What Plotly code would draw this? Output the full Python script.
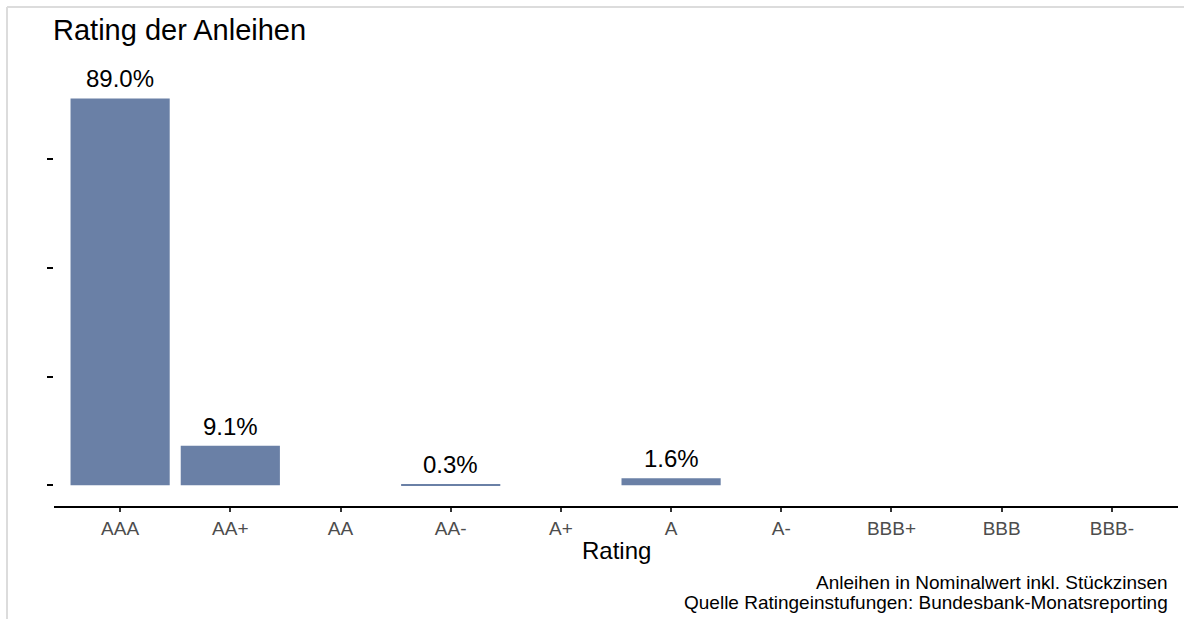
import plotly.graph_objects as go

# Rating categories and portfolio share (percent of nominal value)
ratings = ["AAA", "AA+", "AA", "AA-", "A+", "A", "A-", "BBB+", "BBB", "BBB-"]
shares = [89.0, 9.1, 0.0, 0.3, 0.0, 1.6, 0.0, 0.0, 0.0, 0.0]
y_ticks = [0, 25, 50, 75]

title_text = "Rating der Anleihen"
x_title = "Rating"
caption_lines = [
    "Anleihen in Nominalwert inkl. Stückzinsen",
    "Quelle Ratingeinstufungen: Bundesbank-Monatsreporting",
]

W, H = 1184, 619
ML, MR, MT, MB = 54, 6, 79, 113
PW, PH = W - ML - MR, H - MT - MB

BAR_COLOR = "rgb(106,128,166)"
FONT = "Liberation Sans, Arial, sans-serif"


def px_x(px):
    return (px - ML) / PW


def px_y(py):
    return (H - MB - py) / PH


fig = go.Figure()
fig.add_trace(go.Bar(
    x=ratings,
    y=shares,
    width=0.9,
    marker=dict(color=BAR_COLOR, line=dict(width=0)),
    hoverinfo="skip",
))

annotations = []
# value labels above the non-zero bars
for r, v in zip(ratings, shares):
    if v > 0:
        annotations.append(dict(
            x=r, y=v, xref="x", yref="y",
            text=f"{v:.1f}%", showarrow=False,
            yanchor="bottom", yshift=4,
            font=dict(family=FONT, size=24, color="#000000"),
        ))

annotations.append(dict(
    x=px_x(51), y=px_y(30), xref="paper", yref="paper",
    text=title_text, showarrow=False, xanchor="left", yanchor="middle",
    font=dict(family=FONT, size=29, color="#000000"),
))
annotations.append(dict(
    x=0.5, y=px_y(550), xref="paper", yref="paper",
    text=x_title, showarrow=False, xanchor="center", yanchor="middle",
    font=dict(family=FONT, size=24, color="#000000"),
))
for i, line in enumerate(caption_lines):
    annotations.append(dict(
        x=px_x(1170), y=px_y(582 + 20 * i), xref="paper", yref="paper",
        text=line, showarrow=False, xanchor="right", yanchor="middle",
        font=dict(family=FONT, size=19, color="#000000"),
    ))

# light grey frame on the top and left edges
shapes = [
    dict(type="line", xref="paper", yref="paper",
         x0=px_x(7), x1=px_x(W + 2), y0=px_y(7), y1=px_y(7),
         line=dict(color="#dcdcdc", width=2)),
    dict(type="line", xref="paper", yref="paper",
         x0=px_x(7), x1=px_x(7), y0=px_y(7), y1=px_y(H + 2),
         line=dict(color="#dcdcdc", width=2)),
]

fig.update_layout(
    width=W, height=H,
    margin=dict(l=ML, r=MR, t=MT, b=MB),
    paper_bgcolor="white", plot_bgcolor="white",
    showlegend=False,
    annotations=annotations,
    shapes=shapes,
    xaxis=dict(
        type="category",
        range=[-0.6, 9.6],
        showline=True, linecolor="#000000", linewidth=2,
        ticks="outside", ticklen=4, tickwidth=2, tickcolor="#333333",
        tickfont=dict(family=FONT, size=19, color="#4d4d4d"),
        showgrid=False, zeroline=False,
    ),
    yaxis=dict(
        range=[-4.76, 93.47],
        tickvals=y_ticks,
        showticklabels=False,
        ticks="outside", ticklen=6, tickwidth=2, tickcolor="#000000",
        showline=False, showgrid=False, zeroline=False,
    ),
)

fig.write_html("out.html")
